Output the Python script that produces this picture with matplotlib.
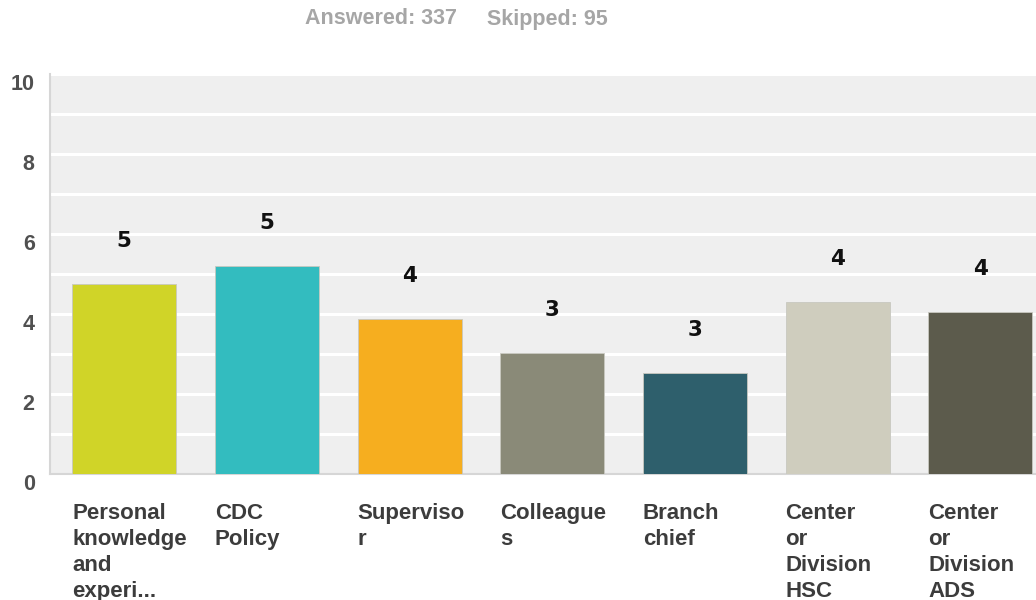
import numpy as np
import matplotlib.pyplot as plt
import matplotlib.transforms as mtransforms

# survey answers, average score per source
categories = ['Personal\nknowledge\nand\nexperi...', 'CDC\nPolicy', 'Superviso\nr',
              'Colleague\ns', 'Branch\nchief', 'Center\nor\nDivision\nHSC',
              'Center\nor\nDivision\nADS']
values = [4.75, 5.2, 3.87, 3.02, 2.52, 4.3, 4.05]
colors = ['#d0d428', '#33bcbf', '#f6ae1f', '#8a8a78', '#2e5f6c', '#cfcdbe', '#5c5b4c']
y_ticks = [0, 2, 4, 6, 8, 10]

plt.rcParams['font.family'] = ['Liberation Sans', 'DejaVu Sans']

fig = plt.figure(figsize=(10.36, 6.0), dpi=100)
ax = fig.add_axes([50 / 1036, 126 / 600, 986 / 1036, 400 / 600])
ax.set_facecolor('#efefef')

x = np.arange(len(categories))
bars = ax.bar(x, values, width=0.73, color=colors, edgecolor='#c8c8c0',
              linewidth=0.6, zorder=3)

# value labels above bars
for b, v in zip(bars, values):
    ax.annotate('{:.0f}'.format(round(v + 1e-9)), (b.get_x() + b.get_width() / 2, v),
                xytext=(0, 31), textcoords='offset points', ha='center', va='center',
                fontsize=15.5, fontweight='bold', family='DejaVu Sans', color='#111111')

ax.set_xlim(-0.52, 6.39)
ax.set_ylim(0, 10)
ax.set_yticks(y_ticks)
ax.set_yticks(np.arange(1, 10, 2), minor=True)
ax.grid(axis='y', which='both', color='white', linewidth=2.2, zorder=1)
ax.tick_params(axis='y', which='both', length=0, pad=11, labelsize=15.5,
               labelcolor='#505050')
for lbl in ax.get_yticklabels():
    lbl.set_fontweight('bold')
    lbl.set_transform(lbl.get_transform() +
                      mtransforms.ScaledTranslation(0, -8 / 100, fig.dpi_scale_trans))

ax.set_xticks([])
for s in ['top', 'right']:
    ax.spines[s].set_visible(False)
for s in ['left', 'bottom']:
    ax.spines[s].set_color('#d6d6d6')
    ax.spines[s].set_linewidth(1.5)

# category names, left aligned with each bar
for b, name in zip(bars, categories):
    ax.text(b.get_x(), -0.72, name, ha='left', va='top', fontsize=16,
            fontweight='bold', color='#3c3c3c', linespacing=1.31,
            transform=ax.transData, clip_on=False)

fig.text(305 / 1036, 1 - 19 / 600, 'Answered: 337', ha='left', va='center',
         fontsize=15.5, fontweight='bold', color='#a6a6a6')
fig.text(487 / 1036, 1 - 19 / 600, 'Skipped: 95', ha='left', va='center',
         fontsize=15.5, fontweight='bold', color='#a6a6a6')

fig.savefig('out.png', dpi=100, facecolor='white')
